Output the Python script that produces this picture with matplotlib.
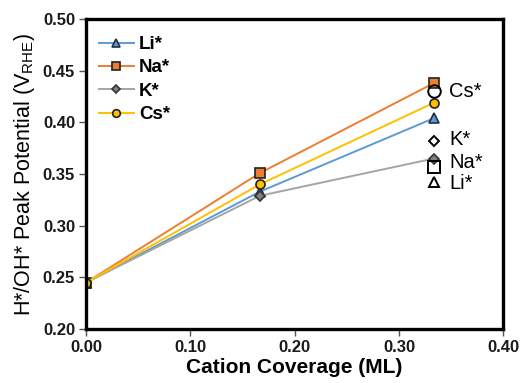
import matplotlib
matplotlib.use("Agg")
import matplotlib.pyplot as plt

plt.rcParams['font.family'] = ['Liberation Sans', 'DejaVu Sans']
plt.rcParams['mathtext.fontset'] = 'custom'
plt.rcParams['mathtext.rm'] = 'Liberation Sans'
plt.rcParams['mathtext.bf'] = 'Liberation Sans:bold'

# coverage (ML)
coverage = [0.0, 1/6, 1/3]

# computed peak potentials (V_RHE)
li_vals = [0.245, 0.333, 0.404]
na_vals = [0.245, 0.351, 0.438]
k_vals = [0.245, 0.329, 0.365]
cs_vals = [0.245, 0.340, 0.419]

# experimental values at 1/3 ML (open markers)
exp_names = ['Cs*', 'K*', 'Na*', 'Li*']
exp_vals = [0.430, 0.382, 0.357, 0.342]
exp_markers = ['o', 'D', 's', '^']
exp_label_y = [0.430, 0.383, 0.361, 0.341]

fig, ax = plt.subplots(figsize=(5.22, 3.83), dpi=100)
fig.subplots_adjust(left=0.165, right=0.964, top=0.95, bottom=0.141)

ax.plot(coverage, li_vals, color='#5B9BD5', lw=1.4, marker='^', ms=6.5,
        mfc='#5B9BD5', mec='#1f2f40', mew=1.2, label='Li*')
ax.plot(coverage, na_vals, color='#ED7D31', lw=1.4, marker='s', ms=6.5,
        mfc='#ED7D31', mec='#222222', mew=1.2, label='Na*')
ax.plot(coverage, k_vals, color='#A5A5A5', lw=1.4, marker='D', ms=5,
        mfc='#808080', mec='#333333', mew=1.2, label='K*')
ax.plot(coverage, cs_vals, color='#FFC000', lw=1.4, marker='o', ms=6.5,
        mfc='#FFC000', mec='#222222', mew=1.2, label='Cs*')

for name, val, mk, ly in zip(exp_names, exp_vals, exp_markers, exp_label_y):
    size = {'o': 9, 'D': 5.5, 's': 8, '^': 7}[mk]
    ax.plot([1/3], [val], linestyle='none', marker=mk, ms=size,
            mfc='none', mec='black', mew=1.4)
    ax.text(0.348, ly, name, fontsize=14.5, va='center', ha='left')

ax.set_xlim(0, 0.40)
ax.set_ylim(0.20, 0.50)
ax.set_xticks([0.0, 0.1, 0.2, 0.3, 0.4])
ax.set_yticks([0.20, 0.25, 0.30, 0.35, 0.40, 0.45, 0.50])
ax.xaxis.set_major_formatter(matplotlib.ticker.FormatStrFormatter('%.2f'))
ax.yaxis.set_major_formatter(matplotlib.ticker.FormatStrFormatter('%.2f'))
for lbl in ax.get_xticklabels() + ax.get_yticklabels():
    lbl.set_fontweight('bold')
ax.tick_params(direction='out', length=5, width=1, labelsize=12,
               colors='#555555', labelcolor='#1a1a1a', pad=3)

for sp in ax.spines.values():
    sp.set_linewidth(2.4)
    sp.set_color('black')

ax.set_xlabel('Cation Coverage (ML)', fontsize=15, fontweight='bold', labelpad=2)
ax.set_ylabel(r'H*/OH* Peak Potential (V$_{\mathrm{RHE}}$)', fontsize=15.5,
              labelpad=4)

leg = ax.legend(loc='upper left', frameon=False,
                prop={'weight': 'bold', 'size': 13.5}, handlelength=1.85,
                handletextpad=0.3, markerscale=0.85,
                labelspacing=0.33, bbox_to_anchor=(-0.01, 1.0))

fig.savefig('out.png', dpi=100)
